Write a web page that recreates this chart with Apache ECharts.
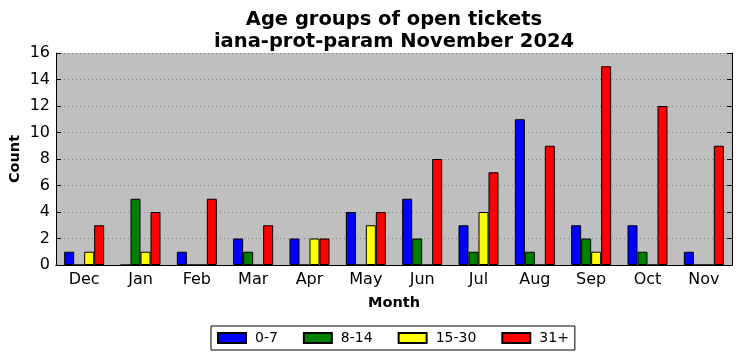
<!DOCTYPE html>
<html><head><meta charset="utf-8">
<script src="https://cdn.jsdelivr.net/npm/echarts@6/dist/echarts.min.js"></script>
<style>html,body{margin:0;padding:0;background:#fff}#c{width:741px;height:361px}</style>
</head><body><div id="c"></div>
<script>
const months = ['Dec','Jan','Feb','Mar','Apr','May','Jun','Jul','Aug','Sep','Oct','Nov'];
const age0_7   = [1,0,1,2,2,4,5,3,11,3,3,1];
const age8_14  = [0,5,0,1,0,0,2,1,1,2,1,0];
const age15_30 = [1,1,0,0,2,3,0,4,0,1,0,0];
const age31p   = [3,4,5,3,2,4,8,7,9,15,12,9];
const seriesNames = ['0-7','8-14','15-30','31+'];
const seriesColors = ['#0000ff','#008000','#ffff00','#ff0000'];
const seriesData = [age0_7, age8_14, age15_30, age31p];
const yTicks = {min:0, max:16, interval:2};

const font = 'DejaVu Sans';
const chart = echarts.init(document.getElementById('c'), null, {renderer:'canvas'});
const grid = {left:56, right:9, top:53, bottom:96};
chart.setOption({
  animation:false,
  backgroundColor:'#ffffff',
  title:{
    text:'Age groups of open tickets\niana-prot-param November 2024',
    left:389, top:4, textAlign:'center',
    textStyle:{fontFamily:font, fontWeight:'bold', fontSize:19.5, color:'#000', lineHeight:22}
  },
  legend:{
    data:seriesNames,
    left:211, top:326, width:370,
    icon:'rect',
    itemWidth:28, itemHeight:10, itemGap:25,
    padding:[5,6,5,6],
    borderColor:'#000', borderWidth:1, backgroundColor:'#fff', borderRadius:0,
    textStyle:{fontFamily:font, fontSize:14, color:'#000', padding:[0,0,0,4]}
  },
  grid:Object.assign({backgroundColor:'#bfbfbf', show:true, borderWidth:0, containLabel:false, outerBoundsMode:'none'}, grid),
  xAxis:[{
    type:'category', data:months, position:'bottom',
    name:'Month', nameLocation:'middle', nameGap:31, nameMoveOverlap:false,
    nameTextStyle:{fontFamily:font, fontWeight:'bold', fontSize:14.5, color:'#000'},
    axisLine:{lineStyle:{color:'#000', width:1}},
    axisTick:{inside:true, alignWithLabel:true, length:5, lineStyle:{color:'#000'}},
    axisLabel:{fontFamily:font, fontSize:16, color:'#000', margin:7},
    splitLine:{show:false}
  },{
    type:'category', data:months, position:'top',
    axisLine:{lineStyle:{color:'#000', width:1}},
    axisTick:{inside:true, alignWithLabel:true, length:5, lineStyle:{color:'#000'}},
    axisLabel:{show:false}, splitLine:{show:false}
  }],
  yAxis:[{
    type:'value', min:yTicks.min, max:yTicks.max, interval:yTicks.interval, position:'left',
    name:'Count', nameLocation:'middle', nameGap:33, nameRotate:90, nameMoveOverlap:false,
    nameTextStyle:{fontFamily:font, fontWeight:'bold', fontSize:14.5, color:'#000'},
    axisLine:{show:true, lineStyle:{color:'#000', width:1}},
    axisTick:{show:true, inside:true, length:5, lineStyle:{color:'#000'}},
    axisLabel:{fontFamily:font, fontSize:16, color:'#000', margin:6},
    splitLine:{show:true, lineStyle:{color:'#7f7f7f', type:[1,3], width:1}}
  },{
    type:'value', min:yTicks.min, max:yTicks.max, interval:yTicks.interval, position:'right',
    axisLine:{show:true, lineStyle:{color:'#000', width:1}},
    axisTick:{show:true, inside:true, length:5, lineStyle:{color:'#000'}},
    axisLabel:{show:false}, splitLine:{show:false}
  }],
  series:seriesNames.map((n,i)=>({
    name:n, type:'bar', data:seriesData[i], xAxisIndex:0, yAxisIndex:0,
    barGap:'0%', barCategoryGap:'29%',
    itemStyle:{color:seriesColors[i], borderColor:'#000', borderWidth:1}
  }))
});
</script></body></html>
